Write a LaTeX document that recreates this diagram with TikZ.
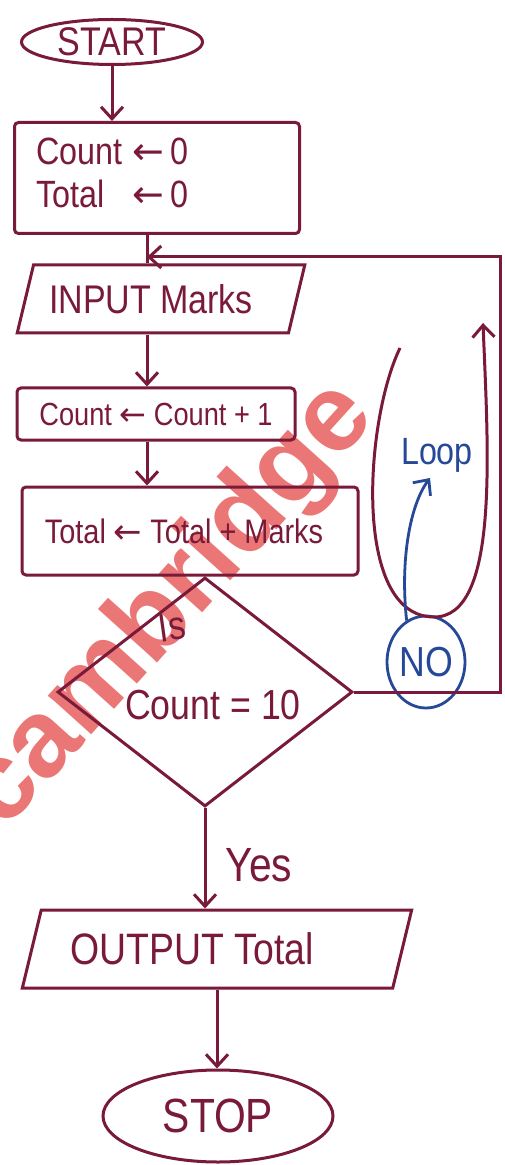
\documentclass[tikz,border=0pt]{standalone}
\usepackage{fontspec}
\setmainfont[FakeStretch=0.85]{Liberation Sans}
\newfontfamily\arrowfont{DejaVu Sans}
\newfontfamily\markfont{Liberation Sans}
\usetikzlibrary{shapes.geometric,arrows.meta}
\definecolor{ink}{RGB}{122,26,58}
\definecolor{pen}{RGB}{38,72,152}
\definecolor{wmark}{RGB}{234,118,118}
\newcommand{\getsarrow}{{\arrowfont ←}}
\newcommand{\fs}[1]{\fontsize{#1}{#1}\selectfont}
\begin{document}
\begin{tikzpicture}[x=0.5pt,y=-0.5pt,
  inkline/.style={draw=ink,line width=1.5pt},
  flow/.style={inkline,-{Straight Barb[length=6pt,width=11pt]}},
  penflow/.style={draw=pen,line width=1.4pt,-{Straight Barb[length=6pt,width=11pt]}},
  box/.style={inkline,rectangle,inner sep=0pt,text=ink,rounded corners=2pt},
  terminal/.style={inkline,ellipse,inner sep=0pt,text=ink},
  io/.style={inkline,trapezium,trapezium stretches=true,inner sep=0pt,text=ink},
  lbl/.style={text=ink,inner sep=0pt}]
\useasboundingbox (0,0) rectangle (504,1165);
\fill[white] (0,0) rectangle (504,1165);

% watermark behind the chart
\node[rotate=48,text=wmark,font=\markfont\bfseries\fs{55}] (wm) at (170,606) {cambridge};

% flowchart boxes
\node[terminal,minimum width=90.5pt,minimum height=22.5pt,font=\fs{20}] (start) at (112,42) {START};
\node[box,minimum width=142.5pt,minimum height=55.5pt,inner xsep=11pt,text width=120.5pt,align=left,font=\fs{19}] (init) at (157,178)
  {\begin{tabular}{@{}l@{\hspace{5pt}}l@{}}Count & \getsarrow\,0\\[2pt] Total & \getsarrow\,0\end{tabular}};
\node[io,trapezium left angle=64,trapezium right angle=116,minimum width=144pt,minimum height=34pt,font=\fs{20}] (input) at (161,299) {INPUT Marks\hspace*{10pt}};
\node[box,minimum width=139pt,minimum height=26pt,font=\fs{16}] (count) at (156,414) {Count \getsarrow{} Count + 1};
\node[box,minimum width=168pt,minimum height=44pt,font=\fs{17}] (total) at (190,531) {Total \getsarrow{} Total + Marks\hspace*{6pt}};
\node[inkline,diamond,minimum width=147.5pt,minimum height=114.5pt,inner sep=0pt] (cond) at (205,692) {};
\node[lbl,font=\fs{20},rotate=8] (istxt) at (172,627) {Is};
\node[lbl,font=\fs{21}] (condtxt) at (213,705) {Count = 10};
\node[io,trapezium left angle=64,trapezium right angle=116,minimum width=195pt,minimum height=39pt,font=\fs{22}] (output) at (217,949) {OUTPUT Total\hspace*{25pt}};
\node[terminal,minimum width=115pt,minimum height=46pt,font=\fs{24}] (stop) at (218,1116) {STOP};
\node[lbl,font=\fs{24}] (yes) at (259,865) {Yes};

% loop annotation
\node[ellipse,draw=pen,line width=1.4pt,text=pen,minimum width=39pt,minimum height=46pt,inner sep=0pt,font=\fs{21}] (nocirc) at (426,662) {NO};
\node[text=pen,inner sep=0pt,font=\fs{19}] (looptxt) at (437,455) {Loop};

\coordinate (jn) at (147,257);
\coordinate (rt) at (500,257);
\coordinate (ua) at (400,348);
\coordinate (ub) at (433,617);
\coordinate (uc) at (483,323);
\coordinate (lptip) at (430,478);

% connectors
\draw[flow] (start.south) -- (start.south |- init.north);
\draw[inkline] (init.south -| jn) -- (input.north -| jn);
\draw[flow] (input.south -| jn) -- (count.north -| jn);
\draw[flow] (count.south -| jn) -- (total.north -| jn);
\draw[flow] (cond.east) -| (rt) -- (jn);
\draw[flow] (cond.south) -- (cond.south |- output.north);
\draw[flow] (output.south) -- (output.south |- stop.north);

\draw[flow] (ua) .. controls (365,420) and (352,615) .. (ub) .. controls (500,619) and (488,450) .. (uc);
\draw[penflow] (nocirc.115) .. controls (400,560) and (410,505) .. (lptip);
\end{tikzpicture}
\end{document}
